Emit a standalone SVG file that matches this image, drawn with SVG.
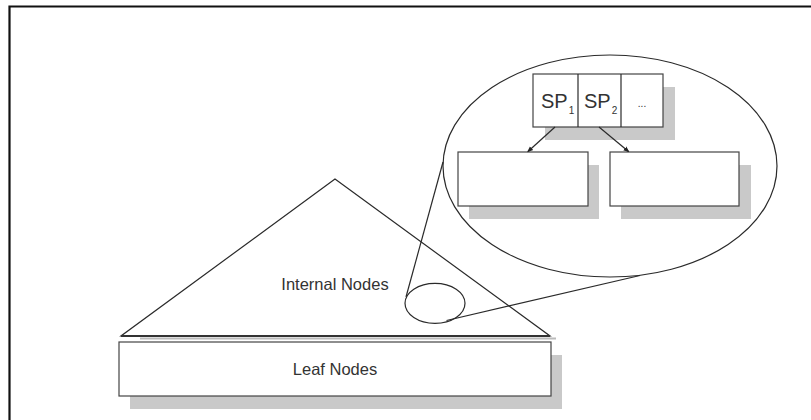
<svg xmlns="http://www.w3.org/2000/svg" width="811" height="420" viewBox="0 0 811 420">
<defs>
<style>
.ln{fill:none;stroke:#2a2a2a;stroke-width:1.2}
.box{fill:#fff;stroke:#444;stroke-width:1.2}
.sh{fill:#c9c9c9;stroke:none}
.lbl{font-family:"Liberation Sans",Arial,sans-serif;font-size:16.5px;fill:#333;text-anchor:middle}
.sp{font-family:"Liberation Sans",Arial,sans-serif;font-size:20px;fill:#333}
.sub{font-family:"Liberation Sans",Arial,sans-serif;font-size:10px;fill:#333}
</style>
<marker id="ah" viewBox="0 0 10 10" refX="8" refY="5" markerWidth="5" markerHeight="5" orient="auto">
<path d="M0,1 L10,5 L0,9 z" fill="#222"/>
</marker>
</defs>
<rect width="811" height="420" fill="#fff"/>
<path d="M9.5,420 V6.5 H811" fill="none" stroke="#111" stroke-width="2.2"/>

<g id="zoom-lens">
<ellipse cx="610" cy="166" rx="167" ry="111" class="ln"/>
<ellipse cx="435" cy="303.3" rx="30" ry="20" class="ln"/>
<line x1="406" y1="297" x2="443" y2="162" class="ln"/>
<line x1="446.5" y1="320.5" x2="640" y2="275.5" class="ln"/>
</g>

<g id="internal-nodes">
<line x1="140" y1="338.5" x2="556" y2="338.5" stroke="#bbb" stroke-width="2"/>
<polygon points="335,179 121,336 550,336" class="ln"/>
<line x1="121" y1="336" x2="550" y2="336" stroke="#333" stroke-width="1.8"/>
<text x="335" y="289.5" class="lbl">Internal Nodes</text>
</g>

<g id="leaf-nodes">
<rect x="130" y="355" width="432" height="54" class="sh"/>
<rect x="119" y="342" width="432" height="54" class="box"/>
<text x="335" y="375" class="lbl">Leaf Nodes</text>
</g>

<g id="sp-node">
<rect x="545" y="87" width="130" height="53" class="sh"/>
<rect x="533" y="74" width="130" height="53" class="box"/>
<line x1="578" y1="74" x2="578" y2="127" class="ln"/>
<line x1="621" y1="74" x2="621" y2="127" class="ln"/>
<text x="541" y="107.5" class="sp">SP<tspan class="sub" dx="1" dy="6.5">1</tspan></text>
<text x="584" y="107.5" class="sp">SP<tspan class="sub" dx="1" dy="6.5">2</tspan></text>
<text x="642" y="107" class="sub" text-anchor="middle" fill="#888">...</text>
</g>

<g id="child-left">
<rect x="469" y="165" width="130" height="54" class="sh"/>
<rect x="458" y="152" width="130" height="54" class="box"/>
</g>

<g id="child-right">
<rect x="621" y="165" width="130" height="54" class="sh"/>
<rect x="610" y="152" width="129" height="54" class="box"/>
</g>

<g id="connectors">
<line x1="555" y1="127" x2="528" y2="151.5" class="ln" marker-end="url(#ah)"/>
<line x1="599" y1="127" x2="628.5" y2="151.5" class="ln" marker-end="url(#ah)"/>
</g>
</svg>
